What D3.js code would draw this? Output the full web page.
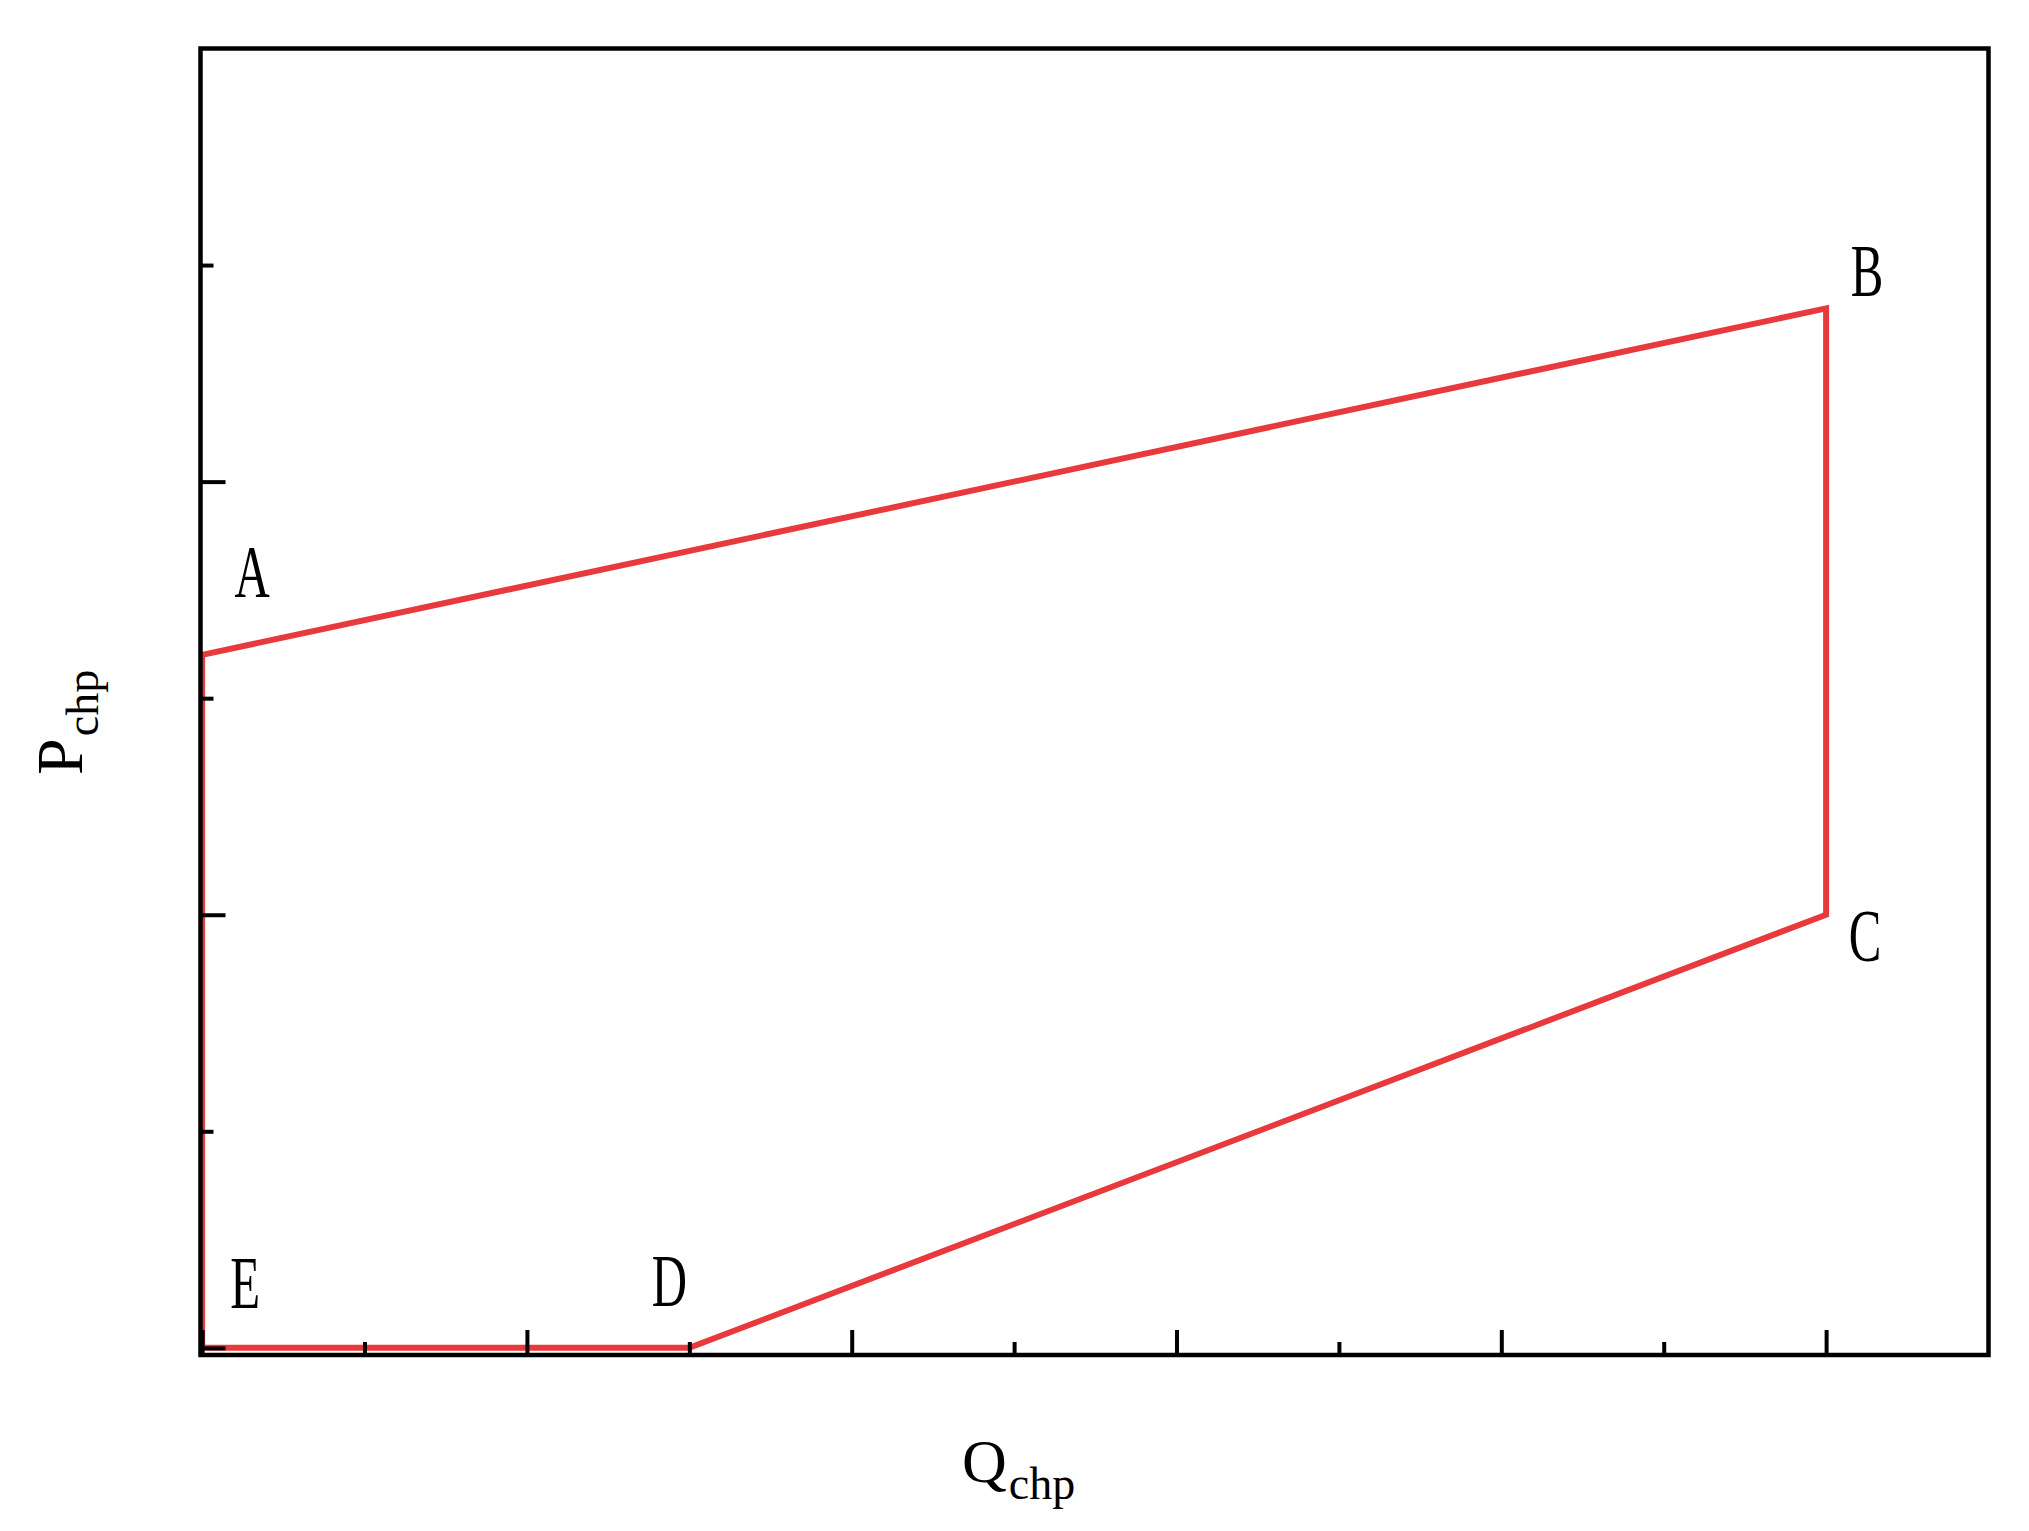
<!DOCTYPE html>
<html>
<head>
<meta charset="utf-8">
<script src="https://cdn.jsdelivr.net/npm/d3@7"></script>
<style>
  html, body { margin: 0; padding: 0; background: #ffffff; }
  svg { display: block; }
</style>
</head>
<body>
<svg id="chart" width="2029" height="1531"></svg>
<script>
// ---- data ----
const pointNames = ["A", "B", "C", "D", "E"];
const qValues = [0, 10, 10, 3, 0];
const pValues = [3.2, 4.8, 2.0, 0, 0];
const xMajorTicks = [0, 2, 4, 6, 8, 10];
const xMinorTicks = [1, 3, 5, 7, 9];
const yMajorTicks = [0, 2, 4];
const yMinorTicks = [1, 3, 5];
const xLabelMain = "Q", xLabelSub = "chp";
const yLabelMain = "P", yLabelSub = "chp";

// ---- layout ----
const plotLeft = 200.5, plotRight = 1988.5, plotTop = 48.5, plotBottom = 1355;
const svg = d3.select("#chart");

const x = d3.scaleLinear().domain([-0.01, 11]).range([plotLeft, plotRight]);
const y = d3.scaleLinear().domain([-0.033, 6.0]).range([plotBottom, plotTop]);

const pts = pointNames.map((n, i) => ({ name: n, q: qValues[i], p: pValues[i] }));

// polygon (closed)
const line = d3.line().x(d => x(d.q)).y(d => y(d.p));
svg.append("path")
  .datum(pts.concat([pts[0]]))
  .attr("d", line)
  .attr("fill", "none")
  .attr("stroke", "#e8393c")
  .attr("stroke-width", 6)
  .attr("stroke-linejoin", "miter");

// axes ticks (inward)
function addAxis(axisGen, transform) {
  const g = svg.append("g").attr("transform", transform).call(axisGen);
  g.select(".domain").remove();
  g.selectAll(".tick line").attr("stroke", "#000").attr("stroke-width", 4);
  g.selectAll(".tick text").remove();
  return g;
}
addAxis(d3.axisBottom(x).tickValues(xMajorTicks).tickSize(-25).tickFormat(""), `translate(0,${plotBottom})`);
addAxis(d3.axisBottom(x).tickValues(xMinorTicks).tickSize(-13).tickFormat(""), `translate(0,${plotBottom})`);
addAxis(d3.axisLeft(y).tickValues(yMajorTicks).tickSize(-25).tickFormat(""), `translate(${plotLeft},0)`);
addAxis(d3.axisLeft(y).tickValues(yMinorTicks).tickSize(-13).tickFormat(""), `translate(${plotLeft},0)`);

// frame
svg.append("rect")
  .attr("x", plotLeft).attr("y", plotTop)
  .attr("width", plotRight - plotLeft).attr("height", plotBottom - plotTop)
  .attr("fill", "none").attr("stroke", "#000").attr("stroke-width", 4.5);

// point labels
const labelOffsets = { A: [50, -58], B: [41, -12], C: [39, 46], D: [-20, -42], E: [43, -40] };
svg.selectAll("text.pt")
  .data(pts)
  .enter().append("text")
  .attr("class", "pt")
  .attr("transform", d => `translate(${x(d.q) + labelOffsets[d.name][0]},${y(d.p) + labelOffsets[d.name][1]}) scale(0.66,1)`)
  .attr("text-anchor", "middle")
  .attr("font-family", "'Liberation Serif', 'DejaVu Serif', serif")
  .attr("font-size", 74)
  .attr("fill", "#000")
  .text(d => d.name);

// x axis label
const xl = svg.append("text")
  .attr("x", 962).attr("y", 1482)
  .attr("font-family", "'Liberation Serif', 'DejaVu Serif', serif")
  .attr("font-size", 62)
  .attr("fill", "#000");
xl.append("tspan").text(xLabelMain);
xl.append("tspan").attr("font-size", 46).attr("dy", 17).attr("dx", 2).text(xLabelSub);

// y axis label
const yl = svg.append("text")
  .attr("transform", "translate(82,775) rotate(-90)")
  .attr("font-family", "'Liberation Serif', 'DejaVu Serif', serif")
  .attr("font-size", 66)
  .attr("fill", "#000");
yl.append("tspan").text(yLabelMain);
yl.append("tspan").attr("font-size", 46).attr("dy", 16).attr("dx", 2).text(yLabelSub);
</script>
</body>
</html>
